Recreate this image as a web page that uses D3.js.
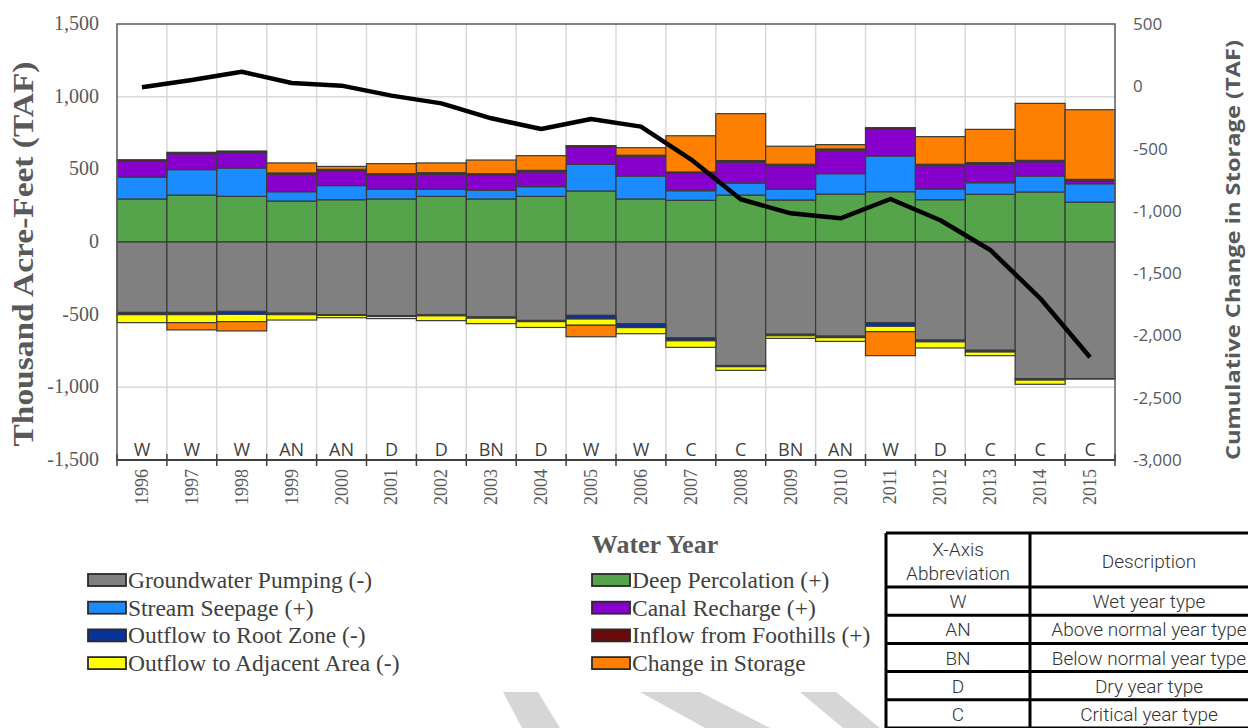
<!DOCTYPE html>
<html><head><meta charset="utf-8">
<script src="https://cdn.jsdelivr.net/npm/d3@7"></script>
<style>
html,body{margin:0;padding:0;background:#fff;}
svg{display:block;}
</style></head>
<body><svg id="c" width="1248" height="728"></svg>
<script>
const years = [1996,1997,1998,1999,2000,2001,2002,2003,2004,2005,2006,2007,2008,2009,2010,2011,2012,2013,2014,2015];
const yearTypes = ["W","W","W","AN","AN","D","D","BN","D","W","W","C","C","BN","AN","W","D","C","C","C"];
const deepPercolation = [296,323,314,282,291,296,314,296,314,351,296,287,323,289,330,346,291,328,344,275];
const streamSeepage = [151,175,195,64,97,67,49,60,67,184,158,66,83,74,140,246,74,80,110,126];
const canalRecharge = [109,109,107,119,102,97,104,104,102,118,133,119,144,162,160,185,160,128,98,20];
const inflowFoothills = [10,10,10,10,10,10,10,10,10,10,10,10,10,10,10,10,10,10,10,10];
const groundwaterPumping = [-485,-485,-478,-490,-500,-507,-500,-516,-540,-505,-562,-660,-850,-635,-648,-555,-675,-745,-940,-940];
const outflowRootZone = [-15,-15,-20,-10,-5,-5,-8,-8,-8,-25,-27,-20,-8,-10,-10,-25,-12,-12,-10,-3];
const outflowAdjacent = [-55,-55,-50,-37,-16,-15,-33,-38,-40,-43,-42,-45,-25,-18,-26,-37,-42,-25,-29,0];
const changeInStorage = [0,-50,-64,69,20,69,67,94,101,-79,52,249,323,124,30,-165,190,229,392,479];
const cumulativeChange = [-8,50,117,26,5,-75,-137,-257,-343,-263,-324,-586,-907,-1020,-1060,-905,-1075,-1314,-1702,-2175];
const leftTicks = [-1500,-1000,-500,0,500,1000,1500];
const rightTicks = [-3000,-2500,-2000,-1500,-1000,-500,0,500];
const tableRows = [["W","Wet year type"],["AN","Above normal year type"],["BN","Below normal year type"],["D","Dry year type"],["C","Critical year type"]];

const series = [
  {key:"deep", name:"Deep Percolation (+)", values:deepPercolation, color:"#55a34b"},
  {key:"stream", name:"Stream Seepage (+)", values:streamSeepage, color:"#1a8cff"},
  {key:"canal", name:"Canal Recharge (+)", values:canalRecharge, color:"#8800cc"},
  {key:"foot", name:"Inflow from Foothills (+)", values:inflowFoothills, color:"#6b0a0a"},
  {key:"pump", name:"Groundwater Pumping (-)", values:groundwaterPumping, color:"#808080"},
  {key:"root", name:"Outflow to Root Zone (-)", values:outflowRootZone, color:"#0a3399"},
  {key:"adj", name:"Outflow to Adjacent Area (-)", values:outflowAdjacent, color:"#ffff00"},
  {key:"stor", name:"Change in Storage", values:changeInStorage, color:"#ff8000"}
];
const fmt = v => d3.format(",")(v).replace("\u2212","-");

const svg = d3.select("#c");
const L = 117, R = 1115, T = 24, B = 460;
const x = d3.scaleBand().domain(years).range([L,R]).padding(0);
const yL = d3.scaleLinear().domain([-1500,1500]).range([B,T]);
const yR = d3.scaleLinear().domain([-3000,500]).range([B,T]);

// gridlines
const g = svg.append("g");
g.selectAll("line.h").data(leftTicks.filter(d=>d>-1500&&d<1500)).enter().append("line")
  .attr("x1",L).attr("x2",R).attr("y1",d=>yL(d)).attr("y2",d=>yL(d))
  .attr("stroke","#d9d9d9").attr("stroke-width",1.5);
g.selectAll("line.v").data(years.slice(1)).enter().append("line")
  .attr("x1",d=>x(d)).attr("x2",d=>x(d)).attr("y1",T).attr("y2",B)
  .attr("stroke","#d9d9d9").attr("stroke-width",1.5);

// stacked bars
const table = years.map((yr,i)=>{const o={year:yr}; series.forEach(s=>o[s.key]=s.values[i]); return o;});
const stack = d3.stack().keys(series.map(s=>s.key)).offset(d3.stackOffsetDiverging);
const stacked = stack(table);
const bars = svg.append("g");
stacked.forEach((layer,li)=>{
  bars.append("g").attr("fill",series[li].color)
    .selectAll("rect").data(layer.filter(d=>d[1]!==d[0])).enter().append("rect")
    .attr("x",d=>x(d.data.year)).attr("width",x.bandwidth())
    .attr("y",d=>yL(Math.max(d[0],d[1]))).attr("height",d=>Math.abs(yL(d[0])-yL(d[1])))
    .attr("stroke","#3a3a3a").attr("stroke-width",1.2);
});

// plot border
svg.append("rect").attr("x",L).attr("y",T).attr("width",R-L).attr("height",B-T)
  .attr("fill","none").attr("stroke","#595959").attr("stroke-width",1.5);

// cumulative line
const line = d3.line().x((d,i)=>x(years[i])+x.bandwidth()/2).y(d=>yR(d));
svg.append("path").datum(cumulativeChange).attr("d",line).attr("fill","none")
  .attr("stroke","#000").attr("stroke-width",4.5).attr("stroke-linejoin","round");

// x axis line with ticks at band boundaries
const xa = svg.append("g");
xa.append("line").attr("x1",L).attr("x2",R).attr("y1",B).attr("y2",B).attr("stroke","#404040").attr("stroke-width",2);
xa.selectAll("line.t").data(years.concat(["end"])).enter().append("line")
  .attr("x1",(d,i)=>i<years.length?x(d):R).attr("x2",(d,i)=>i<years.length?x(d):R)
  .attr("y1",B-6).attr("y2",B+6).attr("stroke","#404040").attr("stroke-width",1.5);

// year type labels
svg.append("g").selectAll("text").data(years).enter().append("text")
  .attr("x",d=>x(d)+x.bandwidth()/2).attr("y",B-4).attr("text-anchor","middle")
  .attr("font-family","'Open Sans', sans-serif").attr("font-size",18).attr("fill","#404040")
  .text((d,i)=>yearTypes[i]);

// year tick labels, rotated
svg.append("g").selectAll("text").data(years).enter().append("text")
  .attr("transform",d=>`translate(${x(d)+x.bandwidth()/2+6},${B+9}) rotate(-90)`)
  .attr("text-anchor","end").attr("font-family","'Liberation Serif', serif").attr("font-size",18).attr("fill","#595959")
  .text(d=>d);

// left axis labels
svg.append("g").selectAll("text").data(leftTicks).enter().append("text")
  .attr("x",99).attr("y",d=>yL(d)+6).attr("text-anchor","end")
  .attr("font-family","'Liberation Serif', serif").attr("font-size",20).attr("fill","#595959")
  .text(d=>fmt(d));

// right axis labels
svg.append("g").selectAll("text").data(rightTicks).enter().append("text")
  .attr("x",1133).attr("y",d=>yR(d)+6).attr("text-anchor","start")
  .attr("font-family","'Open Sans', sans-serif").attr("font-size",17).attr("fill","#595959")
  .text(d=>fmt(d));

// axis titles
svg.append("text").attr("transform","translate(33,254) rotate(-90)").attr("text-anchor","middle")
  .attr("font-family","'Liberation Serif', serif").attr("font-size",29).attr("font-weight","bold").attr("fill","#595959")
  .attr("textLength",385).attr("lengthAdjust","spacingAndGlyphs")
  .text("Thousand Acre-Feet (TAF)");
svg.append("text").attr("transform","translate(1240,250) rotate(-90)").attr("text-anchor","middle")
  .attr("font-family","'Open Sans', sans-serif").attr("font-size",20).attr("font-weight","bold").attr("fill","#595959")
  .attr("textLength",420).attr("lengthAdjust","spacingAndGlyphs")
  .text("Cumulative Change in Storage (TAF)");
svg.append("text").attr("x",655).attr("y",553).attr("text-anchor","middle")
  .attr("font-family","'Liberation Serif', serif").attr("font-size",26).attr("font-weight","bold").attr("fill","#595959")
  .text("Water Year");

// legend
const legendOrder = ["pump","deep","stream","canal","root","foot","adj","stor"];
const lg = svg.append("g");
legendOrder.forEach((k,i)=>{
  const s = series.find(d=>d.key===k);
  const col = i%2, row = Math.floor(i/2);
  const lx = col===0?88:592, ly = 580 + row*27.7;
  lg.append("rect").attr("x",lx).attr("y",ly-6).attr("width",38).attr("height",12)
    .attr("fill",s.color).attr("stroke","#2a2a2a").attr("stroke-width",1.8);
  lg.append("text").attr("x",lx+40).attr("y",ly+8).attr("font-family","'Liberation Serif', serif")
    .attr("font-size",23.5).attr("fill","#404040").text(s.name);
});

// watermark shapes
const wm = svg.append("g").attr("fill","#d6d6d6");
[[[503,692],[538,692],[560,728],[522,728]],[[640,692],[700,692],[770,728],[705,728]],[[800,692],[836,692],[880,728],[843,728]]]
  .forEach(p=>wm.append("polygon").attr("points",p.map(q=>q.join(",")).join(" ")));

// table
const tb = svg.append("g");
const tx0=886, tx1=1030, tx2=1250, ty0=533, ty1=587, rh=28.2;
const tf = "Roboto, 'Liberation Sans', sans-serif";
const addT = (xx,yy,t)=>tb.append("text").attr("x",xx).attr("y",yy).attr("text-anchor","middle").attr("font-family",tf)
  .attr("font-weight",300).attr("font-size",19).attr("fill","#333").text(t);
addT((tx0+tx1)/2,556,"X-Axis");
addT((tx0+tx1)/2,580,"Abbreviation");
addT(1149,568,"Description");
tableRows.forEach((r,i)=>{
  const cy = ty1 + i*rh + rh/2 + 7;
  addT((tx0+tx1)/2,cy,r[0]);
  addT(1149,cy,r[1]);
});
const hl = [ty0, ty1].concat(d3.range(1,6).map(i=>ty1+i*rh));
hl.forEach(yv=>tb.append("line").attr("x1",tx0).attr("x2",tx2).attr("y1",yv).attr("y2",yv).attr("stroke","#000").attr("stroke-width",3));
[tx0,tx1].forEach(xv=>tb.append("line").attr("x1",xv).attr("x2",xv).attr("y1",ty0).attr("y2",740).attr("stroke","#000").attr("stroke-width",3));
</script></body></html>
